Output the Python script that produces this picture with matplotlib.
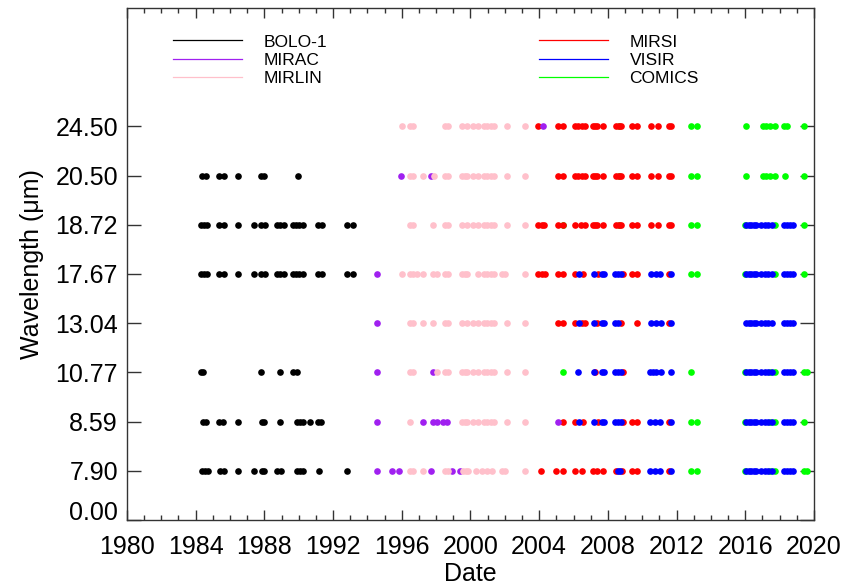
import matplotlib
matplotlib.use("Agg")
import matplotlib.pyplot as plt
from matplotlib.lines import Line2D
from matplotlib.ticker import MultipleLocator

plt.rcParams['font.family'] = ['Liberation Sans', 'DejaVu Sans']

# filter wavelengths (um), plotted as evenly spaced rows 1..8
bands = [7.90, 8.59, 10.77, 13.04, 17.67, 18.72, 20.50, 24.50]

# observation dates (decimal year) per filter, one table per instrument
bolo1 = {
    7.90: [1984.37, 1984.54, 1984.71, 1985.41, 1985.65, 1986.48, 1987.41, 1987.84, 1988.00,
           1988.75, 1988.95, 1989.88, 1990.07, 1990.26, 1991.19, 1992.79],
    8.59: [1984.40, 1984.60, 1985.37, 1985.60, 1986.48, 1987.84, 1987.97, 1988.91, 1989.88,
           1990.07, 1990.26, 1990.65, 1991.14, 1991.27],
    10.77: [1984.29, 1984.44, 1987.80, 1988.91, 1989.64, 1989.91],
    17.67: [1984.29, 1984.48, 1984.67, 1985.37, 1985.63, 1986.48, 1987.39, 1987.80, 1988.02,
            1988.71, 1988.91, 1989.14, 1989.64, 1989.84, 1990.03, 1990.23, 1991.10, 1991.33,
            1992.79, 1993.17],
    18.72: [1984.29, 1984.48, 1984.67, 1985.37, 1985.63, 1986.48, 1987.39, 1987.80, 1988.02,
            1988.71, 1988.91, 1989.14, 1989.64, 1989.84, 1990.03, 1990.23, 1991.10, 1991.33,
            1992.79, 1993.17],
    20.50: [1984.38, 1984.58, 1985.37, 1985.63, 1986.48, 1987.80, 1987.97, 1989.95],
}

mirac = {
    7.90: [1994.53, 1995.41, 1995.85, 1997.69, 1998.90, 1999.38],
    8.59: [1994.53, 1997.25, 1997.83, 1998.06, 1998.41, 1998.61, 2005.07],
    10.77: [1994.57, 1997.79],
    13.04: [1994.57],
    17.67: [1994.57],
    20.50: [1995.93, 1997.68],
    24.50: [2004.23],
}

mirlin = {
    7.90: [1996.47, 1996.66, 1997.25, 1998.51, 1998.70, 1999.58, 1999.73, 1999.87, 2000.35,
           2000.65, 2000.94, 2001.23, 2001.81, 2002.00, 2003.17],
    8.59: [1996.47, 1999.48, 1999.67, 1999.77, 2000.16, 2000.45, 2000.78, 2000.97, 2001.17,
           2001.36, 2002.10, 2003.17],
    10.77: [1996.47, 1996.66, 1998.06, 1998.51, 1998.70, 1999.48, 1999.67, 1999.77, 2000.16,
            2000.45, 2000.78, 2000.97, 2001.17, 2001.36, 2002.10, 2003.17],
    13.04: [1996.47, 1996.66, 1997.25, 1997.83, 1998.51, 1998.70, 1999.48, 1999.77, 2000.16,
            2000.45, 2000.78, 2000.97, 2001.17, 2001.36, 2002.10, 2003.17],
    17.67: [1996.01, 1996.47, 1996.66, 1996.86, 1997.25, 1997.83, 1998.06, 1998.51, 1998.70,
            1999.48, 1999.67, 1999.77, 2000.45, 2000.78, 2000.97, 2001.17, 2001.36, 2001.81,
            2002.00, 2003.17],
    18.72: [1996.47, 1996.66, 1997.83, 1998.51, 1998.70, 1999.48, 1999.77, 2000.16, 2000.45,
            2000.78, 2000.97, 2001.17, 2001.36, 2002.10, 2003.17],
    20.50: [1996.47, 1996.66, 1997.25, 1997.87, 1998.51, 1998.70, 1999.48, 1999.67, 1999.77,
            2000.16, 2000.45, 2000.78, 2000.97, 2001.17, 2001.36, 2002.10, 2003.17],
    24.50: [1996.01, 1996.47, 1996.66, 1998.51, 1998.70, 1999.48, 1999.77, 2000.16, 2000.45,
            2000.78, 2000.97, 2001.17, 2001.36, 2002.10, 2003.17],
}

mirsi = {
    7.90: [2004.10, 2004.97, 2005.40, 2006.08, 2006.52, 2007.14, 2007.34, 2007.73, 2008.45,
           2008.83, 2009.43, 2009.67, 2011.55],
    8.59: [2005.40, 2006.08, 2006.56, 2007.40, 2008.89, 2009.38, 2009.67, 2011.55],
    10.77: [2007.25, 2008.89],
    13.04: [2005.11, 2005.40, 2006.08, 2006.47, 2006.66, 2007.38, 2008.79, 2009.67, 2011.55],
    17.67: [2003.94, 2004.14, 2004.33, 2005.11, 2005.40, 2006.08, 2006.56, 2007.40, 2008.89,
            2009.43, 2009.67, 2011.55],
    18.72: [2003.94, 2004.14, 2004.27, 2005.11, 2005.40, 2006.08, 2006.43, 2006.66, 2007.14,
            2007.25, 2007.38, 2007.69, 2008.50, 2008.65, 2008.79, 2009.43, 2009.67, 2010.50,
            2010.89, 2011.55, 2011.70],
    20.50: [2005.11, 2005.40, 2006.08, 2006.27, 2006.47, 2006.66, 2007.14, 2007.25, 2007.38,
            2007.69, 2008.50, 2008.65, 2008.79, 2009.43, 2009.67, 2010.50, 2010.89, 2011.55,
            2011.70],
    24.50: [2003.94, 2005.11, 2005.40, 2006.08, 2006.27, 2006.47, 2006.66, 2007.14, 2007.25,
            2007.38, 2007.69, 2008.50, 2008.65, 2008.79, 2009.43, 2009.67, 2010.50, 2010.89,
            2011.55, 2011.70],
}

visir_2016 = [2016.03, 2016.19, 2016.34, 2016.50, 2016.65, 2016.94, 2017.14, 2017.33,
              2017.56, 2018.24, 2018.44, 2018.63, 2018.78]
visir = {
    7.90: [2008.60, 2008.70, 2010.44, 2010.73, 2011.02, 2011.70] + visir_2016,
    8.59: [2006.31, 2007.19, 2007.63, 2007.77, 2008.41, 2008.60, 2008.79, 2010.44, 2010.73,
           2011.02, 2011.70] + visir_2016,
    10.77: [2006.27, 2007.19, 2007.63, 2007.77, 2008.41, 2008.60, 2008.79, 2010.44, 2010.63,
            2010.83, 2011.12, 2011.70] + visir_2016,
    13.04: [2006.31, 2007.19, 2007.63, 2007.77, 2008.41, 2008.60, 2010.50, 2010.83, 2011.12,
            2011.70] + visir_2016,
    17.67: [2006.31, 2007.19, 2007.63, 2007.77, 2008.41, 2008.60, 2008.79, 2010.50, 2010.83,
            2011.02, 2011.70] + visir_2016,
    18.72: visir_2016,
}

comics = {
    7.90: [2012.83, 2013.16, 2016.00, 2017.43, 2017.72, 2019.41, 2019.57],
    8.59: [2012.83, 2013.16, 2016.00, 2017.43, 2017.72, 2019.41],
    10.77: [2005.40, 2012.83, 2016.00, 2017.43, 2017.72, 2019.41, 2019.57],
    17.67: [2012.83, 2013.16, 2016.00, 2017.72, 2019.41],
    18.72: [2005.40, 2008.62, 2012.83, 2013.16, 2016.00, 2017.72, 2019.41],
    20.50: [2008.62, 2012.83, 2013.16, 2016.07, 2017.04, 2017.23, 2017.43, 2017.72, 2018.30,
            2019.41],
    24.50: [2008.62, 2012.83, 2013.16, 2016.07, 2017.04, 2017.23, 2017.43, 2017.72, 2018.24,
            2018.44, 2019.41],
}

names = ["BOLO-1", "MIRAC", "MIRLIN", "MIRSI", "VISIR", "COMICS"]
colors = {"BOLO-1": "black", "MIRAC": "#A020F0", "MIRLIN": "#FFC0CB",
          "MIRSI": "#FF0000", "VISIR": "#0000FF", "COMICS": "#00FF00"}
tables = {"BOLO-1": bolo1, "MIRAC": mirac, "MIRLIN": mirlin,
          "MIRSI": mirsi, "VISIR": visir, "COMICS": comics}
draw_order = ["COMICS", "MIRSI", "BOLO-1", "MIRAC", "MIRLIN", "VISIR"]

fig = plt.figure(figsize=(8.51, 5.87), dpi=100)
ax = fig.add_axes([0.1492, 0.1143, 0.8073, 0.8716])

for name in draw_order:
    for wl, dates in tables[name].items():
        row = bands.index(wl) + 1
        ax.plot(dates, [row] * len(dates), 'o', ms=4.8, mew=0,
                color=colors[name], linestyle='none')

ax.set_xlim(1980, 2020)
ax.set_ylim(0, 10.4)
ax.xaxis.set_major_locator(MultipleLocator(4))
ax.xaxis.set_minor_locator(MultipleLocator(1))
ax.set_yticks(range(len(bands) + 1))
ax.set_yticklabels(["0.00"] + ["%.2f" % w for w in bands])
# bottom label sits on the axis line instead of straddling it
ax.get_yticklabels()[0].set_verticalalignment('baseline')

ax.tick_params(axis='both', which='both', direction='in', top=True, right=True,
               labelsize=18, color='#333333', width=1.0)
ax.tick_params(axis='x', which='major', length=7.2, pad=11)
ax.tick_params(axis='x', which='minor', length=3.6)
ax.tick_params(axis='y', which='major', length=10, pad=6.5)
for sp in ax.spines.values():
    sp.set_color('#333333')
    sp.set_linewidth(1.0)

ax.set_xlabel("Date", fontsize=18, labelpad=2)
ax.set_ylabel("Wavelength (\u03bcm)", fontsize=18, labelpad=8)

# key drawn as two blocks of short lines, IDL style
handles = [Line2D([], [], color=colors[n], lw=0.9) for n in names]
leg_kw = dict(loc='upper left', frameon=False, fontsize=12.5, borderpad=0,
              borderaxespad=0, handlelength=3.95, handletextpad=1.25, labelspacing=0.18)
leg1 = ax.legend(handles[:3], names[:3], bbox_to_anchor=(0.067, 0.949), **leg_kw)
ax.add_artist(leg1)
ax.legend(handles[3:], names[3:], bbox_to_anchor=(0.600, 0.949), **leg_kw)

fig.savefig("out.png", dpi=100)
